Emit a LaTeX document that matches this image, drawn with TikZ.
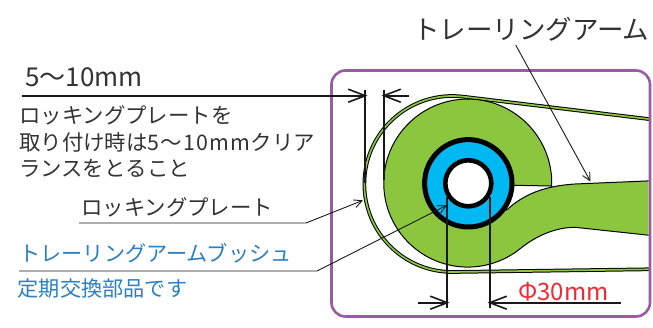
\documentclass[tikz,border=0pt]{standalone}
\usepackage{fontspec}
\usepackage{xcolor}
\setmainfont{Noto Sans CJK JP}
\usetikzlibrary{arrows.meta}
\definecolor{framepurple}{HTML}{9B59A6}
\definecolor{armgreen}{HTML}{8CC63F}
\definecolor{bushblue}{HTML}{00B9F2}
\definecolor{notered}{HTML}{EE2A35}
\definecolor{noteblue}{HTML}{2B7FC3}
\definecolor{notegrey}{HTML}{333333}

\begin{document}
\begin{tikzpicture}[x=1pt, y=-1pt, >={Straight Barb[length=17pt, width=13pt]},
      note/.style={anchor=west, inner sep=0pt, text=notegrey},
      dimline/.style={draw=black!90, line width=1.6pt},
      dimarrow/.style={dimline, ->, shorten >=-2.5pt},
      leader/.style={draw=black!90, line width=0.9pt, shorten >=-1pt, -{Straight Barb[length=8pt, width=8pt]}},
      plate/.style={draw=black, line width=1pt, double=armgreen, double distance=1.7pt},
      arm/.style={fill=armgreen, draw=black, line width=1pt}]
    \useasboundingbox (0,0) rectangle (653,327);

    \draw[framepurple, line width=2.6pt, rounded corners=14pt] (331.5,70.5) rectangle (650,316.5);

    \begin{scope}
      \clip (325,60) rectangle (648.5,320);
      \draw[plate] (670,121.6) -- (462.6,96.6) arc[start angle=-83.3, end angle=-270, radius=88] -- (670,269);
      \draw[arm] (551.7,186) arc[start angle=2, end angle=-307.8, radius=84]
        .. controls (536.7,235) and (556.7,227.3) .. (575,227.3)
        -- (670,237.5) -- (670,180) -- (575,184)
        .. controls (543,186) and (523,195) .. (506.7,210)
        -- (468,183) -- (514,185.3) -- cycle;
    \end{scope}
    \draw[fill=bushblue, draw=black, line width=5pt] (468.3,183.3) circle[radius=43.7];
    \draw[fill=white, draw=black, line width=4.6pt] (468.3,183.3) circle[radius=23];

    % dimensions
    \coordinate (gapa) at (365,95.7);
    \coordinate (gapb) at (384,95.7);
    \coordinate (gapstart) at (22,95.7);
    \coordinate (gapend) at (409,95.7);
    \coordinate (boreaa) at (447,302.7);
    \coordinate (borebb) at (490,302.7);
    \coordinate (borestart) at (418,302.7);
    \coordinate (boreend) at (621,302.7);
    \draw[dimline] (365,90) -- (365,183);
    \draw[dimline] (384,90) -- (384,180);
    \draw[dimline] (447,197) -- (447,307.5);
    \draw[dimline] (490,197) -- (490,307.5);
    \draw[dimarrow] (gapstart) -- (gapa);
    \draw[dimarrow] (gapend) -- (gapb);
    \draw[dimarrow] (borestart) -- (boreaa);
    \draw[dimarrow] (boreend) -- (borebb);

    \node[note, font=\fontsize{26}{26}\selectfont] (gap) at (25,77) {5～10mm};
    \node[note, font=\fontsize{21.4}{26.5}\selectfont, align=left] (howto) at (19,141.5)
      {ロッキングプレートを\\取り付け時は{\addfontfeature{LetterSpace=6}5～10mm}クリア\\ランスをとること};
    \node[note, font=\fontsize{21.4}{21}\selectfont] (plate) at (81,207) {ロッキングプレート};
    \node[note, font=\fontsize{21.2}{21}\selectfont, text=noteblue] (bush) at (19,253) {トレーリングアームブッシュ};
    \node[note, font=\fontsize{21.2}{21}\selectfont, text=noteblue] (parts) at (17.5,288) {定期交換部品です};
    \node[note, font=\fontsize{26.5}{26}\selectfont] (title) at (413,29) {トレーリングアーム};
    \node[note, font=\fontsize{24}{24}\selectfont, text=notered] (bore) at (518,292) {Φ30mm};

    % leaders
    \coordinate (platestart) at (79,223);
    \coordinate (platekink) at (306,223);
    \coordinate (platetip) at (362,200.7);
    \coordinate (bushstart) at (19,271);
    \coordinate (bushkink) at (317,271);
    \coordinate (bushtip) at (446,205.7);
    \coordinate (armstart) at (515.7,45);
    \coordinate (armtip) at (590,180.7);
    \draw[leader] (platestart) -- (platekink) -- (platetip);
    \draw[leader] (bushstart) -- (bushkink) -- (bushtip);
    \draw[leader] (armstart) -- (armtip);
\end{tikzpicture}
\end{document}
